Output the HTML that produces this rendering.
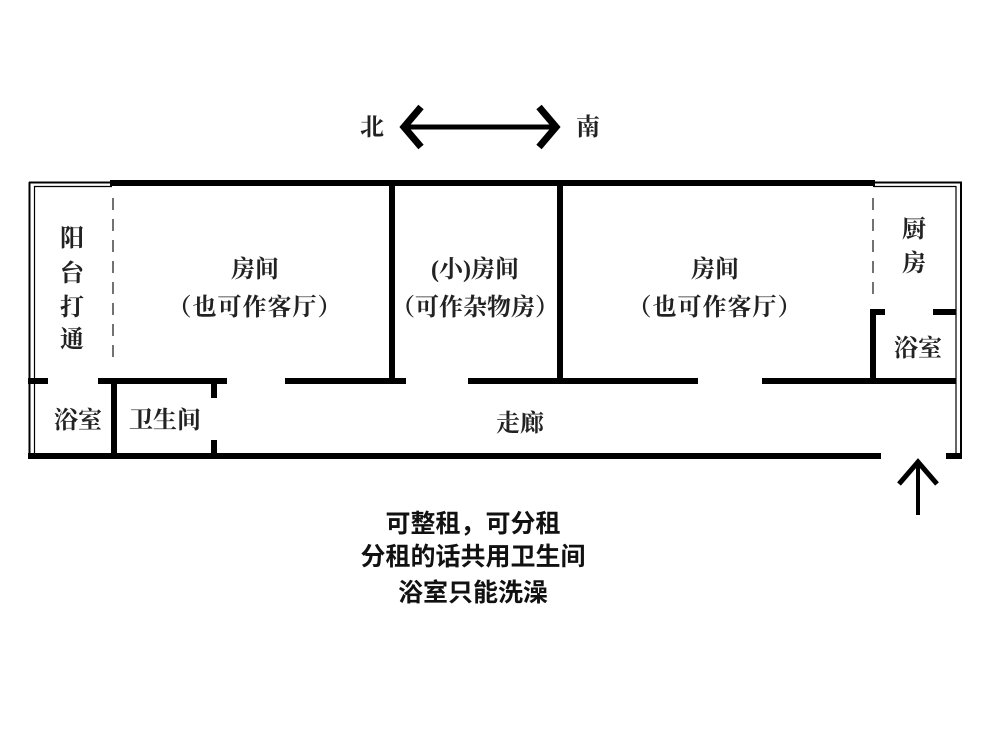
<!DOCTYPE html>
<html><head><meta charset="utf-8"><style>
html,body{margin:0;padding:0;background:#fff;}
svg{display:block}
.r{font-family:"Liberation Serif","Noto Serif CJK SC",serif;font-size:24px;font-weight:bold;fill:#222;}
.b{font-family:"Liberation Sans","Noto Sans CJK SC",sans-serif;font-size:25px;font-weight:bold;fill:#111;}
</style></head><body>
<svg width="1000" height="756" viewBox="0 0 1000 756" xmlns="http://www.w3.org/2000/svg">
<rect width="1000" height="756" fill="#fff"/>
<g stroke="#000" fill="none">
<line x1="29.5" y1="182" x2="29.5" y2="457" stroke-width="2"/>
<line x1="34.5" y1="186" x2="34.5" y2="455" stroke-width="1.2"/>
<line x1="29" y1="182.5" x2="112" y2="182.5" stroke-width="2"/>
<line x1="34" y1="186.5" x2="112" y2="186.5" stroke-width="1.2"/>
<line x1="873" y1="182.5" x2="962" y2="182.5" stroke-width="2"/>
<line x1="873" y1="186.5" x2="956" y2="186.5" stroke-width="1.2"/>
<line x1="961" y1="182" x2="961" y2="457" stroke-width="2"/>
<line x1="956" y1="186" x2="956" y2="455" stroke-width="1.2"/>
</g>
<g fill="#000">
<rect x="110" y="180" width="765" height="6"/>
<rect x="28" y="453" width="853" height="6"/>
<rect x="946" y="453" width="16" height="6"/>
<rect x="28" y="378" width="20" height="6"/>
<rect x="98" y="378" width="129" height="6"/>
<rect x="285" y="378" width="121" height="6"/>
<rect x="468" y="378" width="230" height="6"/>
<rect x="762" y="378" width="194" height="6"/>
<rect x="389" y="182" width="6" height="200"/>
<rect x="557" y="182" width="6" height="200"/>
<rect x="111" y="381" width="6" height="75"/>
<rect x="211" y="381" width="6" height="17"/>
<rect x="211" y="440" width="6" height="15"/>
<rect x="870" y="309" width="6" height="73"/>
<rect x="870" y="309" width="15" height="6"/>
<rect x="933" y="309" width="23" height="6"/>
</g>
<g stroke="#444" stroke-width="1.5" stroke-dasharray="12,9">
<line x1="113" y1="198" x2="113" y2="366"/>
<line x1="873" y1="198" x2="873" y2="300"/>
</g>
<g stroke="#000" stroke-width="5" fill="none">
<line x1="408" y1="127" x2="552" y2="127"/>
<polyline points="421,107 404,127 421,147" stroke-width="7"/>
<polyline points="539,107 556,127 539,147" stroke-width="7"/>
<line x1="918" y1="463" x2="918" y2="515" stroke-width="4"/>
<polyline points="899,484 918,462 937,484" stroke-width="5"/>
</g>
<text class="r" x="372" y="135" text-anchor="middle">北</text>
<text class="r" x="588" y="135" text-anchor="middle">南</text>
<g class="r" text-anchor="middle">
<text x="72" y="246">阳</text>
<text x="72" y="281">台</text>
<text x="72" y="315">打</text>
<text x="72" y="347">通</text>
<text x="255" y="277">房间</text>
<text x="255" y="315" letter-spacing="1">（也可作客厅）</text>
<text x="475" y="277">(小)房间</text>
<text x="475" y="315">（可作杂物房）</text>
<text x="715" y="277">房间</text>
<text x="715" y="315" letter-spacing="1">（也可作客厅）</text>
<text x="914" y="237">厨</text>
<text x="914" y="271">房</text>
<text x="918" y="356">浴室</text>
<text x="78" y="428">浴室</text>
<text x="165" y="428">卫生间</text>
<text x="520" y="431">走廊</text>
</g>
<g class="b" text-anchor="middle">
<text x="473" y="532">可整租，可分租</text>
<text x="473" y="565">分租的话共用卫生间</text>
<text x="473" y="601">浴室只能洗澡</text>
</g>
</svg>
</body></html>
